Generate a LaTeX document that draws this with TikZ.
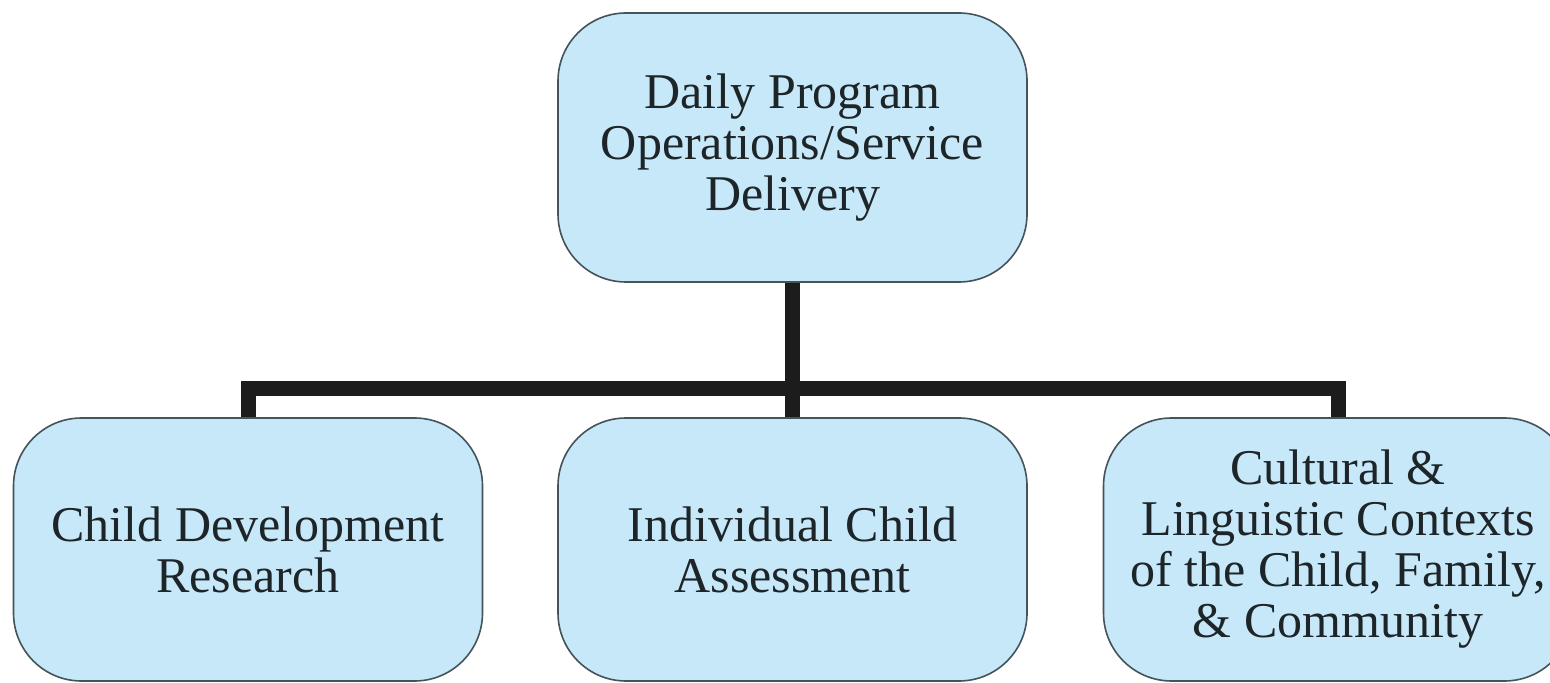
\documentclass[tikz,border=0pt]{standalone}
\usepackage{fontspec}
\setmainfont{Liberation Serif}
\definecolor{boxfill}{HTML}{C6E8F8}
\definecolor{boxline}{HTML}{44545A}
\definecolor{barcol}{HTML}{1C1C1C}
\definecolor{txtcol}{HTML}{1E2529}
\begin{document}
\begin{tikzpicture}[x=0.5pt, y=-0.5pt,
  box/.style={draw=boxline, line width=0.8pt, fill=boxfill, rounded corners=34pt,
    minimum width=234.5pt, minimum height=131.5pt, inner sep=0pt, align=center,
    text=txtcol, font=\fontsize{25}{25.5}\selectfont},
  bar/.style={draw=barcol, line width=7.5pt, line join=miter}]
\useasboundingbox (0,0) rectangle (1550,683);
\node[box, minimum height=134.5pt] (bx0) at (792.5,147.5) {Daily Program\\Operations/Service\\Delivery};
\node[box] (bx1) at (248,549.5) {Child Development\\Research};
\node[box] (bx2) at (792.5,549.5) {Individual Child\\Assessment};
\node[box] (bx3) at (1338,549.5) {Cultural \&\\Linguistic Contexts\\of the Child, Family,\\\& Community};
\coordinate (hub) at (792.5,389);
\draw[bar] (bx0) -- (hub);
\draw[bar] (hub) -| (bx1.north);
\draw[bar] (hub) -- (bx2);
\draw[bar] (hub) -| (bx3.north);
\end{tikzpicture}
\end{document}
